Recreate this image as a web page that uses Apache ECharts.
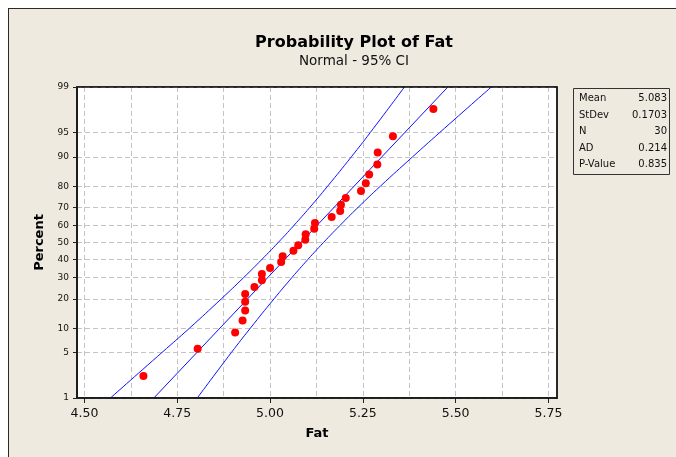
<!DOCTYPE html>
<html><head><meta charset="utf-8">
<script src="https://cdn.jsdelivr.net/npm/echarts@6/dist/echarts.min.js"></script>
<style>
html,body{margin:0;padding:0;background:#fff;}
#frame{position:absolute;left:8px;top:8px;width:668px;height:449px;background:#EEEAE0;border-left:1px solid #2a2a2a;border-top:1px solid #2a2a2a;box-sizing:border-box;}
#main{position:absolute;left:0;top:0;width:676px;height:457px;}
</style></head><body><div id="frame"></div><div id="main"></div>
<script>
// Data
const fatValues = [4.659, 4.805, 4.906, 4.926, 4.933, 4.933, 4.933, 4.958, 4.978, 4.978,
  5.000, 5.030, 5.034, 5.063, 5.076, 5.095, 5.096, 5.119, 5.121, 5.166,
  5.189, 5.191, 5.204, 5.245, 5.258, 5.267, 5.289, 5.290, 5.331, 5.440];
const plotPercents = [2.30, 5.59, 8.88, 12.17, 15.46, 18.75, 22.04, 25.33, 28.62, 31.91,
  35.20, 38.49, 41.78, 45.07, 48.36, 51.64, 54.93, 58.22, 61.51, 64.80,
  68.09, 71.38, 74.67, 77.96, 81.25, 84.54, 87.83, 91.12, 94.41, 97.70];
const percentTicks = [1, 5, 10, 20, 30, 40, 50, 60, 70, 80, 90, 95, 99];
const fitPercents = [1, 99];
const fitValues = [4.687, 5.479];
const bandLeft  = [4.570, 4.709, 4.783, 4.869, 4.929, 4.978, 5.022, 5.064, 5.107, 5.155, 5.219, 5.270, 5.362];
const bandRight = [4.804, 4.896, 4.947, 5.011, 5.059, 5.102, 5.144, 5.188, 5.237, 5.297, 5.384, 5.457, 5.596];
const xTickLabels = [4.50, 4.75, 5.00, 5.25, 5.50, 5.75];
const xGridValues = [4.5, 4.625, 4.75, 4.875, 5.0, 5.125, 5.25, 5.375, 5.5, 5.625, 5.75];
const statNames = ['Mean', 'StDev', 'N', 'AD', 'P-Value'];
const statValues = ['5.083', '0.1703', '30', '0.214', '0.835'];

// inverse standard normal (probability scale)
function probit(p) {
  const a = [-3.969683028665376e+01, 2.209460984245205e+02, -2.759285104469687e+02, 1.383577518672690e+02, -3.066479806614716e+01, 2.506628277459239e+00];
  const b = [-5.447609879822406e+01, 1.615858368580409e+02, -1.556989798598866e+02, 6.680131188771972e+01, -1.328068155288572e+01];
  const c = [-7.784894002430293e-03, -3.223964580411365e-01, -2.400758277161838e+00, -2.549732539343734e+00, 4.374664141464968e+00, 2.938163982698783e+00];
  const d = [7.784695709041462e-03, 3.224671290700398e-01, 2.445134137142996e+00, 3.754408661907416e+00];
  const plow = 0.02425;
  let q, r;
  if (p < plow) {
    q = Math.sqrt(-2 * Math.log(p));
    return (((((c[0]*q+c[1])*q+c[2])*q+c[3])*q+c[4])*q+c[5]) / ((((d[0]*q+d[1])*q+d[2])*q+d[3])*q+1);
  } else if (p <= 1 - plow) {
    q = p - 0.5; r = q*q;
    return (((((a[0]*r+a[1])*r+a[2])*r+a[3])*r+a[4])*r+a[5])*q / (((((b[0]*r+b[1])*r+b[2])*r+b[3])*r+b[4])*r+1);
  } else {
    q = Math.sqrt(-2 * Math.log(1 - p));
    return -(((((c[0]*q+c[1])*q+c[2])*q+c[3])*q+c[4])*q+c[5]) / ((((d[0]*q+d[1])*q+d[2])*q+d[3])*q+1);
  }
}
const z = p => probit(p / 100);
const yTickZ = percentTicks.map(z);
function zLabel(v) {
  let best = 0, bd = Infinity;
  yTickZ.forEach((t, i) => { const dd = Math.abs(t - v); if (dd < bd) { bd = dd; best = i; } });
  return String(percentTicks[best]);
}

const FONT = 'DejaVu Sans';
const lineStyle = { color: '#1010ff', width: 1 };
const dash = { color: '#c4c4c4', type: [5, 3], width: 1 };

const chart = echarts.init(document.getElementById('main'), null, { renderer: 'canvas' });
const rowY = [98.7, 115.2, 131.7, 148.2, 164.7];
const statGraphics = [];
statNames.forEach((n, i) => {
  statGraphics.push({ type: 'text', x: 579, y: rowY[i], style: { text: n, fontFamily: FONT, fontSize: 10, fill: '#111', textAlign: 'left', textVerticalAlign: 'middle' } });
  statGraphics.push({ type: 'text', x: 667, y: rowY[i], style: { text: statValues[i], fontFamily: FONT, fontSize: 10, fill: '#111', textAlign: 'right', textVerticalAlign: 'middle' } });
});

chart.setOption({
  backgroundColor: 'transparent',
  animation: false,
  title: {
    text: 'Probability Plot of Fat',
    subtext: 'Normal - 95% CI',
    left: 349, top: 30, textAlign: 'center', itemGap: 3,
    textStyle: { fontFamily: FONT, fontSize: 16, fontWeight: 'bold', color: '#000' },
    subtextStyle: { fontFamily: FONT, fontSize: 13.5, color: '#111' }
  },
  grid: { left: 77, top: 87, width: 480, height: 311, show: true, backgroundColor: '#fff', borderColor: '#222', borderWidth: 1.5 },
  xAxis: [{
    type: 'value', min: 4.48, max: 5.773,
    axisLine: { show: true, onZero: false, lineStyle: { color: '#222', width: 1.5 } },
    axisTick: { show: true, customValues: xTickLabels, length: 5, lineStyle: { color: '#222' } },
    axisLabel: { customValues: xTickLabels, formatter: v => v.toFixed(2), fontFamily: FONT, fontSize: 12.5, color: '#111', margin: 9 },
    splitLine: { show: false },
    name: 'Fat', nameLocation: 'middle', nameGap: 29,
    nameTextStyle: { fontFamily: FONT, fontSize: 13, fontWeight: 'bold', color: '#000' }
  }, {
    type: 'value', min: 4.48, max: 5.773, gridIndex: 0, position: 'bottom',
    axisLine: { show: false }, axisLabel: { show: false },
    axisTick: { show: false, customValues: xGridValues },
    splitLine: { show: true, lineStyle: dash }
  }],
  yAxis: {
    type: 'value', min: z(1), max: z(99),
    axisLine: { show: true, onZero: false, lineStyle: { color: '#222', width: 1.5 } },
    axisTick: { show: true, customValues: yTickZ, length: 4, lineStyle: { color: '#222' } },
    axisLabel: { customValues: yTickZ, formatter: zLabel, fontFamily: FONT, fontSize: 9, color: '#111', margin: 8 },
    splitLine: { show: true, lineStyle: dash },
    name: 'Percent', nameLocation: 'middle', nameGap: 31,
    nameTextStyle: { fontFamily: FONT, fontSize: 13, fontWeight: 'bold', color: '#000' }
  },
  graphic: [
    { type: 'rect', z: 100, silent: true, shape: { x: 77, y: 87, width: 480, height: 311 }, style: { fill: 'none', stroke: '#1a1a1a', lineWidth: 1.5 } },
    { type: 'rect', shape: { x: 573.5, y: 88.5, width: 96, height: 86 }, style: { fill: 'none', stroke: '#333', lineWidth: 1 } }
  ].concat(statGraphics),
  series: [
    { type: 'line', name: 'fit', data: fitPercents.map((p, i) => [fitValues[i], z(p)]), showSymbol: false, symbol: 'none', lineStyle, z: 3 },
    { type: 'line', name: 'lo', data: percentTicks.map((p, i) => [bandLeft[i], z(p)]), smooth: true, showSymbol: false, symbol: 'none', lineStyle, z: 3 },
    { type: 'line', name: 'hi', data: percentTicks.map((p, i) => [bandRight[i], z(p)]), smooth: true, showSymbol: false, symbol: 'none', lineStyle, z: 3 },
    { type: 'scatter', name: 'Fat', data: fatValues.map((v, i) => [v, z(plotPercents[i])]), symbolSize: 8, itemStyle: { color: '#ff0000', opacity: 1 }, z: 4 }
  ]
});
</script></body></html>
